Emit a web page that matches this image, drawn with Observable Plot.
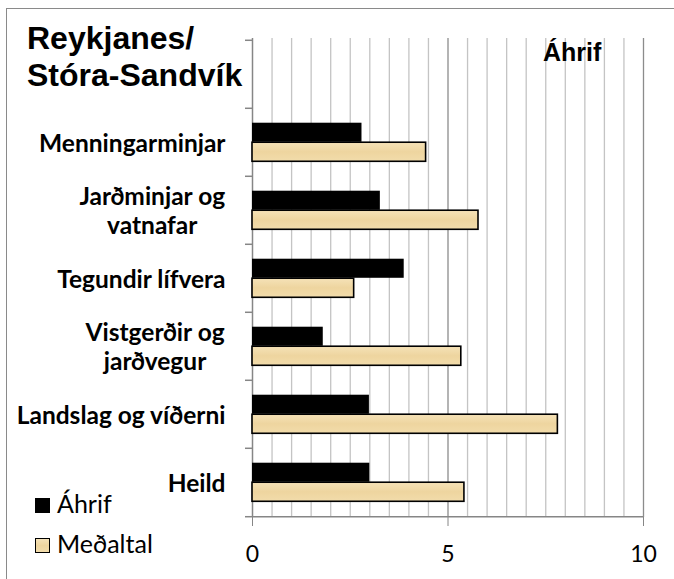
<!DOCTYPE html>
<html><head><meta charset="utf-8">
<script src="https://cdn.jsdelivr.net/npm/d3@7"></script>
<script src="https://cdn.jsdelivr.net/npm/@observablehq/plot@0.6"></script>
<style>
body{margin:0;background:#fff;}
#wrap{position:relative;width:674px;height:579px;overflow:hidden;background:#fff;}
#border{position:absolute;left:6px;top:8px;width:800px;height:800px;border:1.5px solid #8a8a8a;box-sizing:border-box;}
#chart{position:absolute;left:0;top:0;}
.t{position:absolute;white-space:nowrap;color:#000;}
#title{left:27px;top:20px;font:bold 32px/37px "Liberation Sans",Arial,sans-serif;}
#sub{left:543px;top:40px;font:bold 25px/1 "Liberation Sans",Arial,sans-serif;}
.leg{font:25px/1 Lato,sans-serif;left:57px;}
.sw{position:absolute;left:35px;width:15px;height:15px;box-sizing:border-box;}
</style></head><body>
<svg width="0" height="0" style="position:absolute"><defs>
<linearGradient id="tan" x1="0" y1="0" x2="0" y2="1">
<stop offset="0" stop-color="#f5e2b8"/><stop offset="0.5" stop-color="#eed59f"/><stop offset="1" stop-color="#f2dcab"/>
</linearGradient></defs></svg>
<div id="wrap">
<div id="border"></div>
<div id="chart"></div>
<div id="title" class="t"></div>
<div id="sub" class="t"></div>
<div id="legend"></div>
</div>
<script>
const categories = [" ", "Menningarminjar", "Jarðminjar og\nvatnafar", "Tegundir lífvera", "Vistgerðir og\njarðvegur", "Landslag og víðerni", "Heild"];
const seriesNames = ["Áhrif", "Meðaltal"];
const ahrifValues = [null, 2.80, 3.27, 3.88, 1.81, 2.99, 3.00];
const medaltalValues = [null, 4.44, 5.78, 2.60, 5.34, 7.81, 5.42];
const xTicks = [0, 5, 10];
const chartTitle = ["Reykjanes/", "Stóra-Sandvík"];
const panelTitle = "Áhrif";

const W = 674, H = 579, mL = 252, mR = 31, mT = 38, mB = 62;
const step = (H - mT - mB) / categories.length;
const barH = step * 0.285;
const outer = (step - 2 * barH) / 2;
const pxPerUnit = (W - mL - mR) / 10;
const tickLen = 7 / pxPerUnit;

const ahrifRows = categories.map((c, i) => ({cat: c, value: ahrifValues[i]})).filter(d => d.value != null);
const medaltalRows = categories.map((c, i) => ({cat: c, value: medaltalValues[i]})).filter(d => d.value != null);
const minorGrid = d3.range(0.5, 10, 0.5).filter(v => v % 5 !== 0);
const last = categories[categories.length - 1];

const plot = Plot.plot({
  width: W, height: H, marginLeft: mL, marginRight: mR, marginTop: mT, marginBottom: mB,
  style: {background: "transparent", overflow: "visible", fontFamily: "Lato"},
  x: {domain: [0, 10], axis: null},
  y: {domain: categories, padding: 0, axis: null},
  marks: [
    Plot.ruleX(minorGrid, {stroke: "#c4c4c4", strokeWidth: 1.3}),
    Plot.ruleX([5, 10], {stroke: "#8c8c8c", strokeWidth: 1.3}),
    Plot.ruleX([0], {stroke: "#868686", strokeWidth: 1.5}),
    Plot.ruleY([last], {dy: step / 2, stroke: "#868686", strokeWidth: 1.5}),
    Plot.ruleY(categories, {y: d => d, x1: -tickLen, x2: 0, dy: -step / 2, stroke: "#868686", strokeWidth: 1.5}),
    Plot.ruleY([last], {y: d => d, x1: -tickLen, x2: 0, dy: step / 2, stroke: "#868686", strokeWidth: 1.5}),
    Plot.barX(ahrifRows, {y: "cat", x: "value", fill: "black", insetTop: outer, insetBottom: step - outer - barH}),
    Plot.barX(medaltalRows, {y: "cat", x: "value", fill: "url(#tan)", stroke: "black", strokeWidth: 1.6, insetTop: outer + barH, insetBottom: outer}),
    Plot.axisX({ticks: xTicks, tickSize: 9, tickPadding: 19, stroke: "#868686", fill: "black", fontSize: 23, fontFamily: "Lato", anchor: "bottom", label: null}),
    Plot.text(categories, {y: d => d, text: d => d.trim(), frameAnchor: "left", textAnchor: "end", dx: -27,
      fontWeight: "bold", fontSize: 24.5, fontFamily: "Lato", lineHeight: 1.15, fill: "black"})
  ]
});
document.getElementById("chart").append(plot);

// center the lines of multi-line labels within their right-aligned block
const flat = new Set(categories.filter(c => c.includes("\n")).map(c => c.replace("\n", "")));
d3.select(plot).selectAll("text").each(function() {
  if (!flat.has(this.textContent)) return;
  const w = this.getBBox().width;
  const t = d3.select(this);
  t.attr("text-anchor", "middle").style("text-anchor", "middle");
  t.selectAll("tspan").attr("x", -w / 2);
});

document.getElementById("title").innerHTML = chartTitle.join("<br>");
document.getElementById("sub").textContent = panelTitle;

const legend = document.getElementById("legend");
const legTops = [491, 531];
const swTops = [498, 538];
seriesNames.forEach((s, i) => {
  const sw = document.createElement("div");
  sw.className = "sw";
  sw.style.top = swTops[i] + "px";
  if (i === 0) sw.style.background = "#000";
  else { sw.style.background = "linear-gradient(#f5e2b8,#eed59f,#f2dcab)"; sw.style.border = "1.5px solid #000"; }
  legend.append(sw);
  const tx = document.createElement("div");
  tx.className = "t leg";
  tx.style.top = legTops[i] + "px";
  tx.textContent = s;
  legend.append(tx);
});
</script>
</body></html>
